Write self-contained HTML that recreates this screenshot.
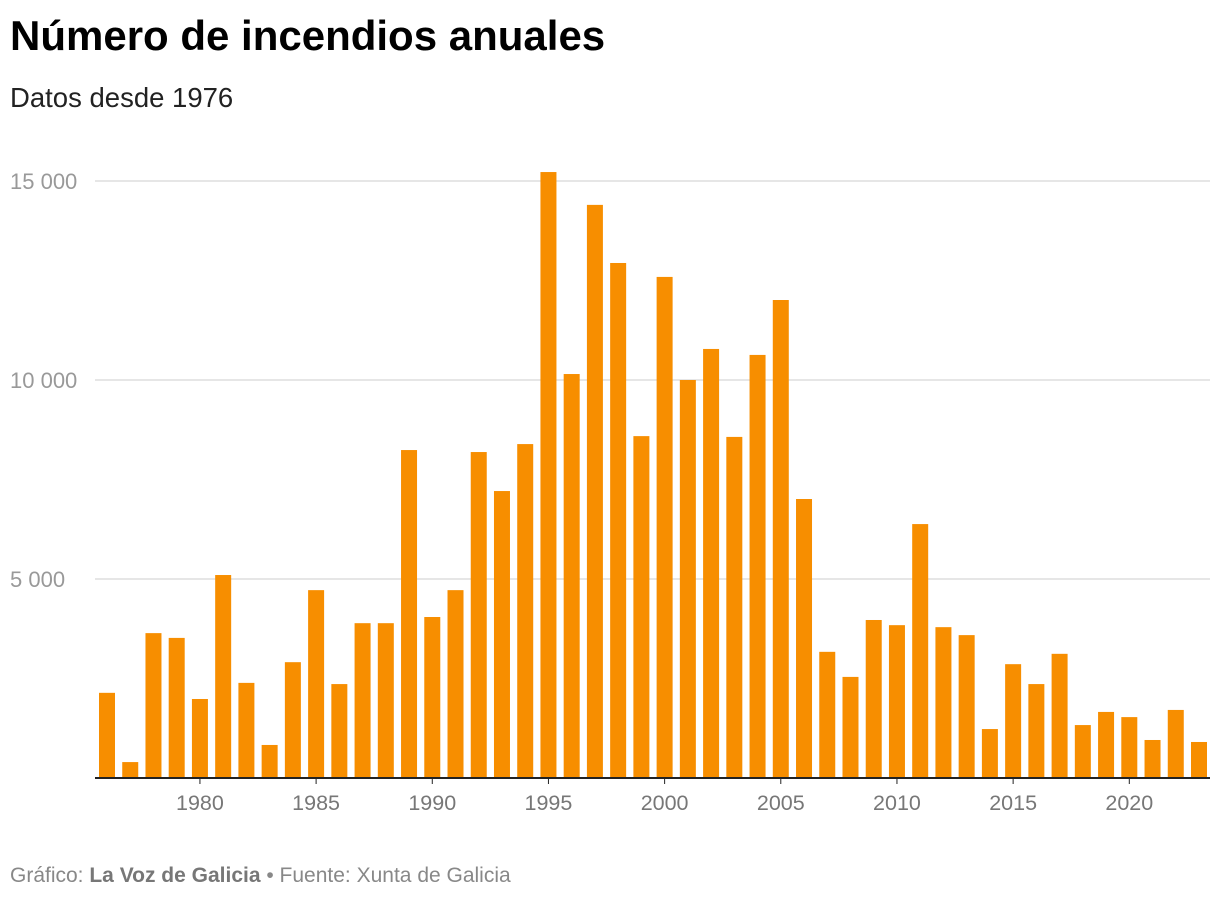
<!DOCTYPE html>
<html><head><meta charset="utf-8"><style>
body{margin:0;background:#fff;font-family:"Liberation Sans",sans-serif;}
#wrap{position:relative;width:1220px;height:900px;overflow:hidden;}
h1{position:absolute;left:10px;top:12px;margin:0;font-size:42px;font-weight:bold;color:#000;letter-spacing:0}
.sub{position:absolute;left:10px;top:82px;font-size:27.5px;color:#222}
.foot{position:absolute;left:10px;top:864px;font-size:21px;color:#888}
</style></head><body>
<div id="wrap">
<h1>Número de incendios anuales</h1>
<div class="sub">Datos desde 1976</div>
<svg id="chart" width="1220" height="900" style="position:absolute;left:0;top:0"></svg>
<div class="foot">Gráfico: <b style="color:#777">La Voz de Galicia</b> • Fuente: Xunta de Galicia</div>
</div>
<script>
const years=[1976,1977,1978,1979,1980,1981,1982,1983,1984,1985,1986,1987,1988,1989,1990,1991,1992,1993,1994,1995,1996,1997,1998,1999,2000,2001,2002,2003,2004,2005,2006,2007,2008,2009,2010,2011,2012,2013,2014,2015,2016,2017,2018,2019,2020,2021,2022,2023];
const fires=[2140,400,3640,3520,1985,5100,2390,830,2910,4720,2360,3890,3890,8240,4045,4720,8190,7210,8390,15225,10150,14400,12940,8590,12590,10000,10780,8570,10630,12010,7010,3170,2540,3970,3840,6380,3790,3590,1230,2860,2360,3120,1330,1660,1530,955,1710,905];
const yTicks=[5000,10000,15000];
const yTickLabels=["5 000","10 000","15 000"];
const xTicks=[1980,1985,1990,1995,2000,2005,2010,2015,2020];
const NS="http://www.w3.org/2000/svg";
const svg=document.getElementById('chart');
const y0=778,yPer=199/5000,x0=107,pitch=(1199-107)/47,bw=16;
const y=v=>y0-v*yPer;
const x=yr=>x0+(yr-years[0])*pitch;
function mk(t,a){const e=document.createElementNS(NS,t);for(const k in a)e.setAttribute(k,a[k]);svg.appendChild(e);return e;}
yTicks.forEach((t,i)=>{
 const l=mk('line',{x1:95,x2:1210,y1:y(t),y2:y(t),stroke:'#ddd','stroke-width':1.5});
 
 
 const tx=mk('text',{x:10,y:y(t)+8,'font-size':22,fill:'#999','font-family':'Liberation Sans, sans-serif'});
 tx.textContent=yTickLabels[i];
 
 
});
years.forEach((yr,i)=>{
 const r=mk('rect',{x:x(yr)-bw/2,y:y(fires[i]),width:bw,height:fires[i]*yPer,fill:'#f78e00'});
 
 
});
const ax=mk('line',{x1:95,x2:1210,y1:y0,y2:y0,stroke:'#222','stroke-width':2});


xTicks.forEach(t=>{
 const tk=mk('line',{x1:x(t),x2:x(t),y1:y0,y2:y0+6,stroke:'#222','stroke-width':1});
 
 
 const tx=mk('text',{x:x(t),y:y0+32,'font-size':21.5,fill:'#777','text-anchor':'middle','font-family':'Liberation Sans, sans-serif'});
 tx.textContent=t;
 
 
});
</script>
</body></html>
